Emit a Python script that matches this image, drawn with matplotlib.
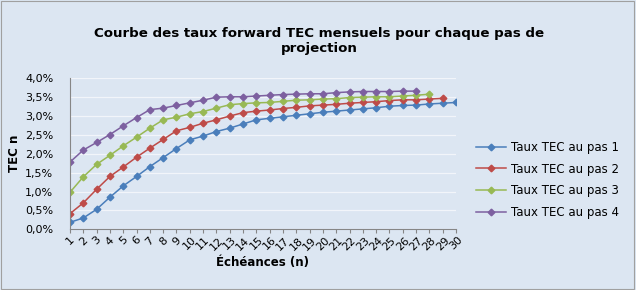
import matplotlib
matplotlib.use("Agg")
import matplotlib.pyplot as plt
from matplotlib.ticker import FuncFormatter

echeances = list(range(1, 31))
pas1 = [0.185, 0.30, 0.53, 0.85, 1.15, 1.40, 1.66, 1.90, 2.14, 2.37, 2.47, 2.59, 2.68, 2.79, 2.90,
        2.94, 2.98, 3.02, 3.06, 3.10, 3.13, 3.16, 3.19, 3.22, 3.26, 3.28, 3.29, 3.32, 3.34, 3.36]
pas2 = [0.415, 0.70, 1.06, 1.40, 1.65, 1.91, 2.15, 2.38, 2.61, 2.70, 2.81, 2.90, 3.00, 3.09, 3.13,
        3.16, 3.20, 3.23, 3.27, 3.29, 3.31, 3.34, 3.36, 3.38, 3.41, 3.43, 3.43, 3.45, 3.47]
pas3 = [0.98, 1.39, 1.72, 1.96, 2.21, 2.44, 2.68, 2.90, 2.97, 3.06, 3.12, 3.21, 3.30, 3.33, 3.35,
        3.36, 3.39, 3.42, 3.43, 3.45, 3.46, 3.49, 3.50, 3.51, 3.51, 3.53, 3.55, 3.58]
pas4 = [1.78, 2.10, 2.30, 2.51, 2.74, 2.96, 3.17, 3.21, 3.28, 3.35, 3.42, 3.50, 3.51, 3.51, 3.53,
        3.55, 3.57, 3.58, 3.59, 3.59, 3.62, 3.64, 3.65, 3.65, 3.65, 3.66, 3.66]
series = [("Taux TEC au pas 1", pas1, "#4a7ebb"),
          ("Taux TEC au pas 2", pas2, "#be4b48"),
          ("Taux TEC au pas 3", pas3, "#98b954"),
          ("Taux TEC au pas 4", pas4, "#7d60a0")]
yticks = [0.0, 0.5, 1.0, 1.5, 2.0, 2.5, 3.0, 3.5, 4.0]

bg = "#dce6f2"
fig = plt.figure(figsize=(6.36, 2.9), dpi=100, facecolor=bg)
W, H = 636, 290
ax = fig.add_axes([70 / W, 1 - 229.3 / H, (456 - 70) / W, (229.3 - 78.3) / H])
ax.set_facecolor(bg)

for name, vals, col in series:
    ax.plot(echeances[:len(vals)], vals, color=col, marker="D", markersize=3.4,
            linewidth=1.1, label=name)

ax.set_xlim(1, 30)
ax.set_ylim(0, 4.0)
ax.set_yticks(yticks)
ax.yaxis.set_major_formatter(FuncFormatter(lambda v, p: f"{v:.1f}%".replace(".", ",")))
ax.set_xticks(echeances)
ax.set_xticklabels([str(e) for e in echeances], rotation=45, fontsize=8,
                   ha="center", va="top")
ax.tick_params(axis="y", labelsize=8, length=0, pad=12)
ax.tick_params(axis="x", length=3, color="#868686", pad=1)
ax.grid(axis="y", color="#f2f5fa", linewidth=0.9)
ax.set_axisbelow(True)
for s in ["top", "right"]:
    ax.spines[s].set_visible(False)
ax.spines["left"].set_color("#868686")
ax.spines["bottom"].set_color("#868686")
ax.spines["left"].set_linewidth(0.8)
ax.spines["bottom"].set_linewidth(0.8)

ax.set_ylabel("TEC n", fontsize=8.5, fontweight="bold", labelpad=3)
ax.set_xlabel("Échéances (n)", fontsize=8.5, fontweight="bold", labelpad=3)

fig.text(319 / W, 1 - 41 / H, "Courbe des taux forward TEC mensuels pour chaque pas de\nprojection",
         ha="center", va="center", fontsize=9.6, fontweight="bold", linespacing=1.2)

leg = fig.legend(loc="center left", bbox_to_anchor=(465 / W, 1 - 180 / H), frameon=False,
                 fontsize=8.5, handlelength=2.6, labelspacing=0.75, handletextpad=0.4)

fig.patches.append(plt.Rectangle((0.002, 0.003), 0.995, 0.994, transform=fig.transFigure,
                                 fill=False, edgecolor="#a0a0a0", linewidth=0.8))
fig.savefig("out.png", dpi=100, facecolor=bg)
